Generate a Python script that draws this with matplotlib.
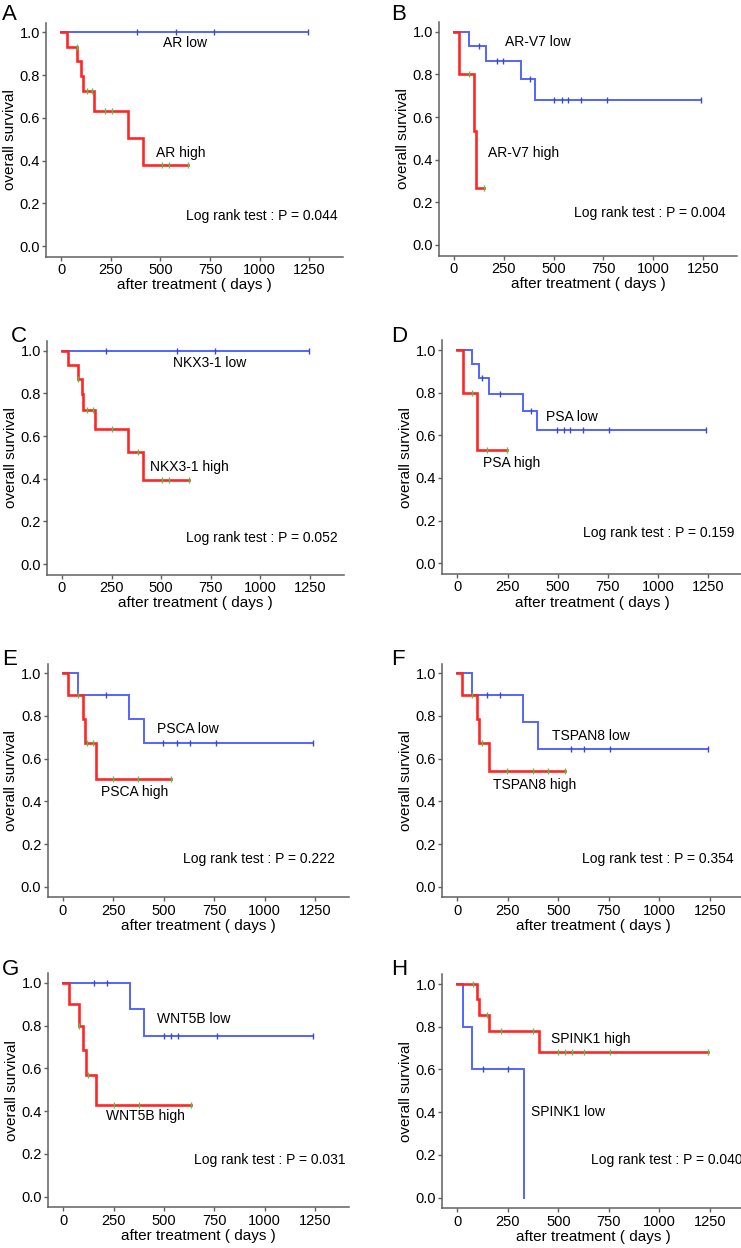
import numpy as np
import matplotlib
matplotlib.use("Agg")
import matplotlib.pyplot as plt

plt.rcParams['font.family'] = ['Liberation Sans', 'DejaVu Sans']

# --- data: event times (days), survival after each event, censor times ---
A_low_t, A_low_s, A_low_c = [], [], [384, 577, 772, 1245]
A_high_t = [32, 82, 102, 112, 166, 336, 411]
A_high_s = [0.933, 0.867, 0.795, 0.723, 0.633, 0.506, 0.380]
A_high_c = [79, 129, 154, 221, 255, 507, 544, 641]

B_low_t = [75, 162, 334, 405]
B_low_s = [0.933, 0.862, 0.776, 0.679]
B_low_c = [125, 214, 247, 381, 503, 540, 572, 637, 766, 1240]
B_high_t = [27, 102, 110]
B_high_s = [0.800, 0.533, 0.267]
B_high_c = [75, 152]

C_low_t, C_low_s, C_low_c = [], [], [220, 578, 771, 1245]
C_high_t = [30, 79, 99, 108, 166, 334, 410]
C_high_s = [0.933, 0.867, 0.795, 0.723, 0.633, 0.527, 0.395]
C_high_c = [79, 128, 155, 254, 381, 506, 541, 640]

D_low_t = [73, 109, 158, 327, 397]
D_low_s = [0.933, 0.867, 0.794, 0.715, 0.626]
D_low_c = [122, 211, 369, 495, 531, 562, 627, 755, 1240]
D_high_t = [26, 99]
D_high_s = [0.800, 0.533]
D_high_c = [73, 147, 247]

E_low_t = [78, 330, 403]
E_low_s = [0.900, 0.788, 0.675]
E_low_c = [215, 499, 565, 631, 760, 1240]
E_high_t = [28, 99, 111, 163]
E_high_s = [0.900, 0.788, 0.675, 0.506]
E_high_c = [78, 122, 149, 251, 375, 535]

F_low_t = [74, 327, 401]
F_low_s = [0.900, 0.771, 0.643]
F_low_c = [149, 211, 563, 627, 756, 1240]
F_high_t = [25, 96, 106, 158]
F_high_s = [0.900, 0.788, 0.675, 0.540]
F_high_c = [74, 124, 244, 373, 450, 533]

G_low_t = [331, 402]
G_low_s = [0.875, 0.750]
G_low_c = [154, 218, 500, 535, 571, 762, 1240]
G_high_t = [30, 78, 99, 113, 162]
G_high_s = [0.900, 0.800, 0.686, 0.571, 0.428]
G_high_c = [78, 124, 252, 377, 632]

H_low_t = [26, 74, 330]
H_low_s = [0.800, 0.600, 0.000]
H_low_c = [129, 249]
H_high_t = [99, 109, 158, 404]
H_high_s = [0.929, 0.857, 0.779, 0.682]
H_high_c = [79, 149, 216, 376, 497, 533, 566, 629, 756, 1240]

panels = [
    ("A", "AR", A_low_t, A_low_s, A_low_c, A_high_t, A_high_s, A_high_c, "0.044"),
    ("B", "AR-V7", B_low_t, B_low_s, B_low_c, B_high_t, B_high_s, B_high_c, "0.004"),
    ("C", "NKX3-1", C_low_t, C_low_s, C_low_c, C_high_t, C_high_s, C_high_c, "0.052"),
    ("D", "PSA", D_low_t, D_low_s, D_low_c, D_high_t, D_high_s, D_high_c, "0.159"),
    ("E", "PSCA", E_low_t, E_low_s, E_low_c, E_high_t, E_high_s, E_high_c, "0.222"),
    ("F", "TSPAN8", F_low_t, F_low_s, F_low_c, F_high_t, F_high_s, F_high_c, "0.354"),
    ("G", "WNT5B", G_low_t, G_low_s, G_low_c, G_high_t, G_high_s, G_high_c, "0.031"),
    ("H", "SPINK1", H_low_t, H_low_s, H_low_c, H_high_t, H_high_s, H_high_c, "0.040"),
]

# label positions (data coords, left aligned): low label, high label, log rank
label_pos = {
    "A": ((515, 0.948), (476, 0.434), (629, 0.14)),
    "B": ((256, 0.95), (172, 0.433), (602, 0.148)),
    "C": ((558, 0.94), (444, 0.456), (625, 0.123)),
    "D": ((440, 0.684), (126, 0.472), (624, 0.14)),
    "E": ((466, 0.737), (190, 0.445), (598, 0.128)),
    "F": ((467, 0.708), (178, 0.477), (617, 0.128)),
    "G": ((467, 0.829), (210, 0.379), (650, 0.171)),
    "H": ((366, 0.40), (464, 0.741), (662, 0.176)),
}

# pixel anchors: x of day 0, px per day, y of 1.0, y of 0.0
anchors = [
    (61.0, 0.1987, 32.3, 246.0), (454.0, 0.1993, 31.7, 245.0),
    (62.0, 0.1983, 350.7, 564.0), (457.3, 0.2008, 350.0, 563.3),
    (62.7, 0.2019, 673.3, 886.7), (457.3, 0.2020, 673.3, 886.7),
    (63.3, 0.2013, 982.7, 1196.7), (457.3, 0.2020, 984.0, 1197.7),
]
letter_px = [(2, 20), (391, 20), (11, 342), (391, 342),
             (2, 665), (391, 665), (2, 975), (391, 975)]

W, H = 741, 1248
XLIM = (-75, 1420)
YLIM = (-0.05, 1.045)

BLUE = '#5264ff'
RED = '#ff2626'
SPINE = '#606060'

fig = plt.figure(figsize=(W / 100, H / 100), dpi=100)


def km_curve(ax, t, s, c, end, color, lw, mcolor):
    x = [0] + list(t) + [end]
    y = [1.0] + list(s) + [s[-1] if s else 1.0]
    ax.step(x, y, where='post', color=color, lw=lw, solid_joinstyle='miter', zorder=3)
    tt = np.array(t)
    ss = np.array([1.0] + list(s))
    cy = ss[np.searchsorted(tt, c, side='right')] if len(tt) else np.ones(len(c))
    ax.plot(c, cy, ls='none', marker='|', ms=4.5, mew=1.0, color=mcolor, zorder=4)


for i, (letter, gene, lt, ls_, lc, ht, hs, hc, p) in enumerate(panels):
    x0, sc, y1, y0 = anchors[i]
    ypx = y0 - y1
    left = x0 + XLIM[0] * sc
    right = x0 + XLIM[1] * sc
    top = y1 - (YLIM[1] - 1.0) * ypx
    bottom = y0 - YLIM[0] * ypx
    ax = fig.add_axes([left / W, 1 - bottom / H, (right - left) / W, (bottom - top) / H])

    low_end = max(lc + lt) if (lc or lt) else 0
    high_end = max(hc + ht)
    km_curve(ax, lt, ls_, lc, low_end, BLUE, 1.4, '#3a4acc')
    km_curve(ax, ht, hs, hc, high_end, RED, 1.9, '#44cc44')

    ax.set_xlim(*XLIM)
    ax.set_ylim(*YLIM)
    ax.set_xticks([0, 250, 500, 750, 1000, 1250])
    ax.set_yticks([0.0, 0.2, 0.4, 0.6, 0.8, 1.0])
    ax.set_yticklabels(['0.0', '0.2', '0.4', '0.6', '0.8', '1.0'])
    for side in ['top', 'right']:
        ax.spines[side].set_visible(False)
    for side in ['left', 'bottom']:
        ax.spines[side].set_color(SPINE)
        ax.spines[side].set_linewidth(1.1)
    ax.tick_params(length=3, width=1.0, color=SPINE, labelsize=10.5, pad=1.5)
    ax.set_xlabel('after treatment ( days )', fontsize=11, labelpad=1)
    ax.set_ylabel('overall survival', fontsize=11, labelpad=2)

    (lx, ly), (hx, hy), (px, py) = label_pos[letter]
    ax.text(lx, ly, f'{gene} low', fontsize=10, va='center', ha='left')
    ax.text(hx, hy, f'{gene} high', fontsize=10, va='center', ha='left')
    ax.text(px, py, f'Log rank test : P = {p}', fontsize=10, va='center', ha='left')

    lxp, lyp = letter_px[i]
    fig.text(lxp / W, 1 - lyp / H, letter, fontsize=16, ha='left', va='baseline')

fig.savefig('out.png', dpi=100)
